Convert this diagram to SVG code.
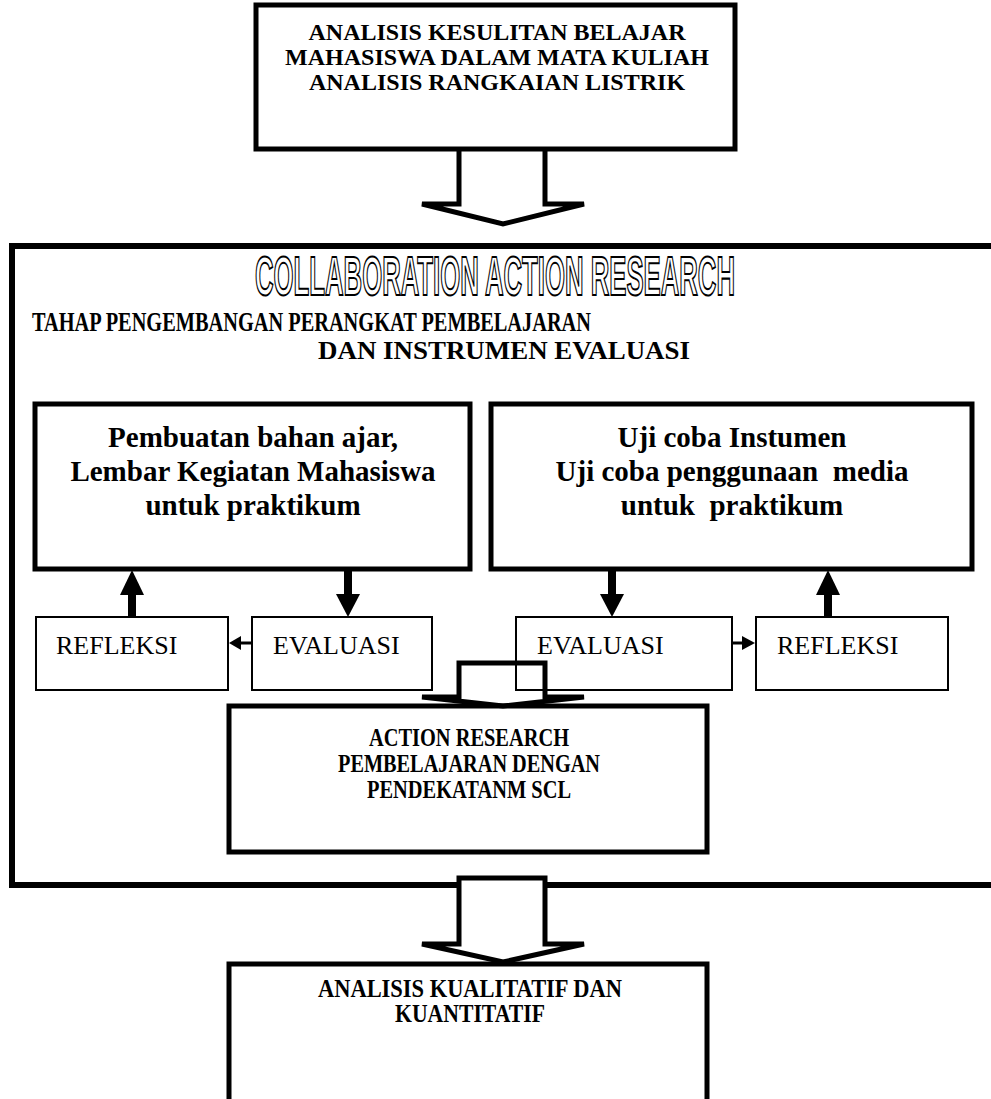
<svg xmlns="http://www.w3.org/2000/svg" width="991" height="1099" viewBox="0 0 991 1099">
<style>
.frame{fill:none;stroke:#000;stroke-width:6}
.box{fill:#fff;stroke:#000;stroke-width:5}
.open{fill:none;stroke:#000;stroke-width:5}
.sbox{fill:#fff;stroke:#000;stroke-width:2}
.blk{fill:#fff;stroke:#000;stroke-width:5;stroke-linejoin:miter}
.blkn{fill:none;stroke:#000;stroke-width:5;stroke-linejoin:miter}
.t{font-family:"Liberation Serif","Times New Roman",serif;font-weight:bold;fill:#000;text-anchor:middle}
.big{font-size:29px}
.mid{font-size:24px}
.low{font-size:25px}
.r{font-family:"Liberation Serif","Times New Roman",serif;font-size:26px;fill:#000}
.title{font-family:"Liberation Sans",Arial,sans-serif;font-weight:bold;font-size:24px;fill:#fff;stroke:#000;stroke-width:1.6}
.sub{font-family:"Liberation Serif","Times New Roman",serif;font-weight:bold;fill:#000}
.ah{fill:#000}
.pre{white-space:pre}
</style>
<rect width="991" height="1099" fill="#fff"/>

<g id="frame">
  <path class="frame" d="M998,246 H12 V885 H998"/>
  <text class="title" transform="translate(255,295) scale(1,2.35)" x="0" y="0" textLength="480" lengthAdjust="spacingAndGlyphs" vector-effect="non-scaling-stroke">COLLABORATION ACTION RESEARCH</text>
  <text class="sub" x="32" y="331" font-size="28" textLength="559" lengthAdjust="spacingAndGlyphs">TAHAP PENGEMBANGAN PERANGKAT PEMBELAJARAN</text>
  <text class="sub" x="318" y="359" font-size="26" textLength="372" lengthAdjust="spacingAndGlyphs">DAN INSTRUMEN EVALUASI</text>
</g>

<g id="connectors">
  <path class="blk" d="M459,150 V204 H422 L503,224 L584,204 H545 V150"/>
  <path class="blk" d="M459,878 V944 H422 L503,962 L584,944 H545 V878 Z"/>
  <rect class="ah" x="128" y="592" width="8" height="26"/>
  <polygon class="ah" points="120,595 144,595 132,570"/>
  <rect class="ah" x="344" y="570" width="8" height="26"/>
  <polygon class="ah" points="336,594 360,594 348,617"/>
  <rect class="ah" x="608" y="570" width="8" height="26"/>
  <polygon class="ah" points="600,594 624,594 612,617"/>
  <rect class="ah" x="824" y="592" width="8" height="26"/>
  <polygon class="ah" points="816,595 840,595 828,570"/>
  <line x1="240" y1="643" x2="252" y2="643" stroke="#000" stroke-width="3"/>
  <polygon class="ah" points="229,643 241,636 241,650"/>
  <line x1="732" y1="643" x2="743" y2="643" stroke="#000" stroke-width="3"/>
  <polygon class="ah" points="742,636 742,650 755,643"/>
</g>

<g id="n-analisis">
  <rect class="box" x="256" y="5" width="479" height="144"/>
  <text class="t mid" x="497" y="40">ANALISIS KESULITAN BELAJAR</text>
  <text class="t mid" x="497" y="65">MAHASISWA DALAM MATA KULIAH</text>
  <text class="t mid" x="497" y="90">ANALISIS RANGKAIAN LISTRIK</text>
</g>

<g id="n-pembuatan">
  <rect class="box" x="35" y="404" width="435" height="165"/>
  <text class="t big" x="253" y="447">Pembuatan bahan ajar,</text>
  <text class="t big" x="253" y="481">Lembar Kegiatan Mahasiswa</text>
  <text class="t big" x="253" y="515">untuk praktikum</text>
</g>

<g id="n-ujicoba">
  <rect class="box" x="491" y="404" width="481" height="165"/>
  <text class="t big" x="732" y="447">Uji coba Instumen</text>
  <text class="t big pre" x="732" y="481">Uji coba penggunaan  media</text>
  <text class="t big pre" x="732" y="515">untuk  praktikum</text>
</g>

<g id="n-refleksi-1">
  <rect class="sbox" x="36" y="617" width="192" height="73"/>
  <text class="r" x="56" y="654">REFLEKSI</text>
</g>
<g id="n-evaluasi-1">
  <rect class="sbox" x="252" y="617" width="180" height="73"/>
  <text class="r" x="273" y="654">EVALUASI</text>
</g>
<g id="n-evaluasi-2">
  <rect class="sbox" x="516" y="617" width="216" height="73"/>
  <text class="r" x="537" y="654">EVALUASI</text>
</g>
<g id="n-refleksi-2">
  <rect class="sbox" x="756" y="617" width="192" height="73"/>
  <text class="r" x="777" y="654">REFLEKSI</text>
</g>

<g id="n-action">
  <rect class="box" x="229" y="706" width="478" height="146"/>
  <text class="t low" x="469" y="746" textLength="200" lengthAdjust="spacingAndGlyphs">ACTION RESEARCH</text>
  <text class="t low" x="469" y="772" textLength="262" lengthAdjust="spacingAndGlyphs">PEMBELAJARAN DENGAN</text>
  <text class="t low" x="469" y="798" textLength="204" lengthAdjust="spacingAndGlyphs">PENDEKATANM SCL</text>
</g>

<g id="n-kualitatif">
  <path class="open" d="M229,1102 V964 H707 V1102"/>
  <text class="t low" x="470" y="997" textLength="304" lengthAdjust="spacingAndGlyphs">ANALISIS KUALITATIF DAN</text>
  <text class="t low" x="470" y="1022" textLength="150" lengthAdjust="spacingAndGlyphs">KUANTITATIF</text>
</g>

<g id="connector-action">
  <path class="blkn" d="M459,663 H545 V697 H584 L503,706 L422,697 H459 Z"/>
</g>
</svg>
